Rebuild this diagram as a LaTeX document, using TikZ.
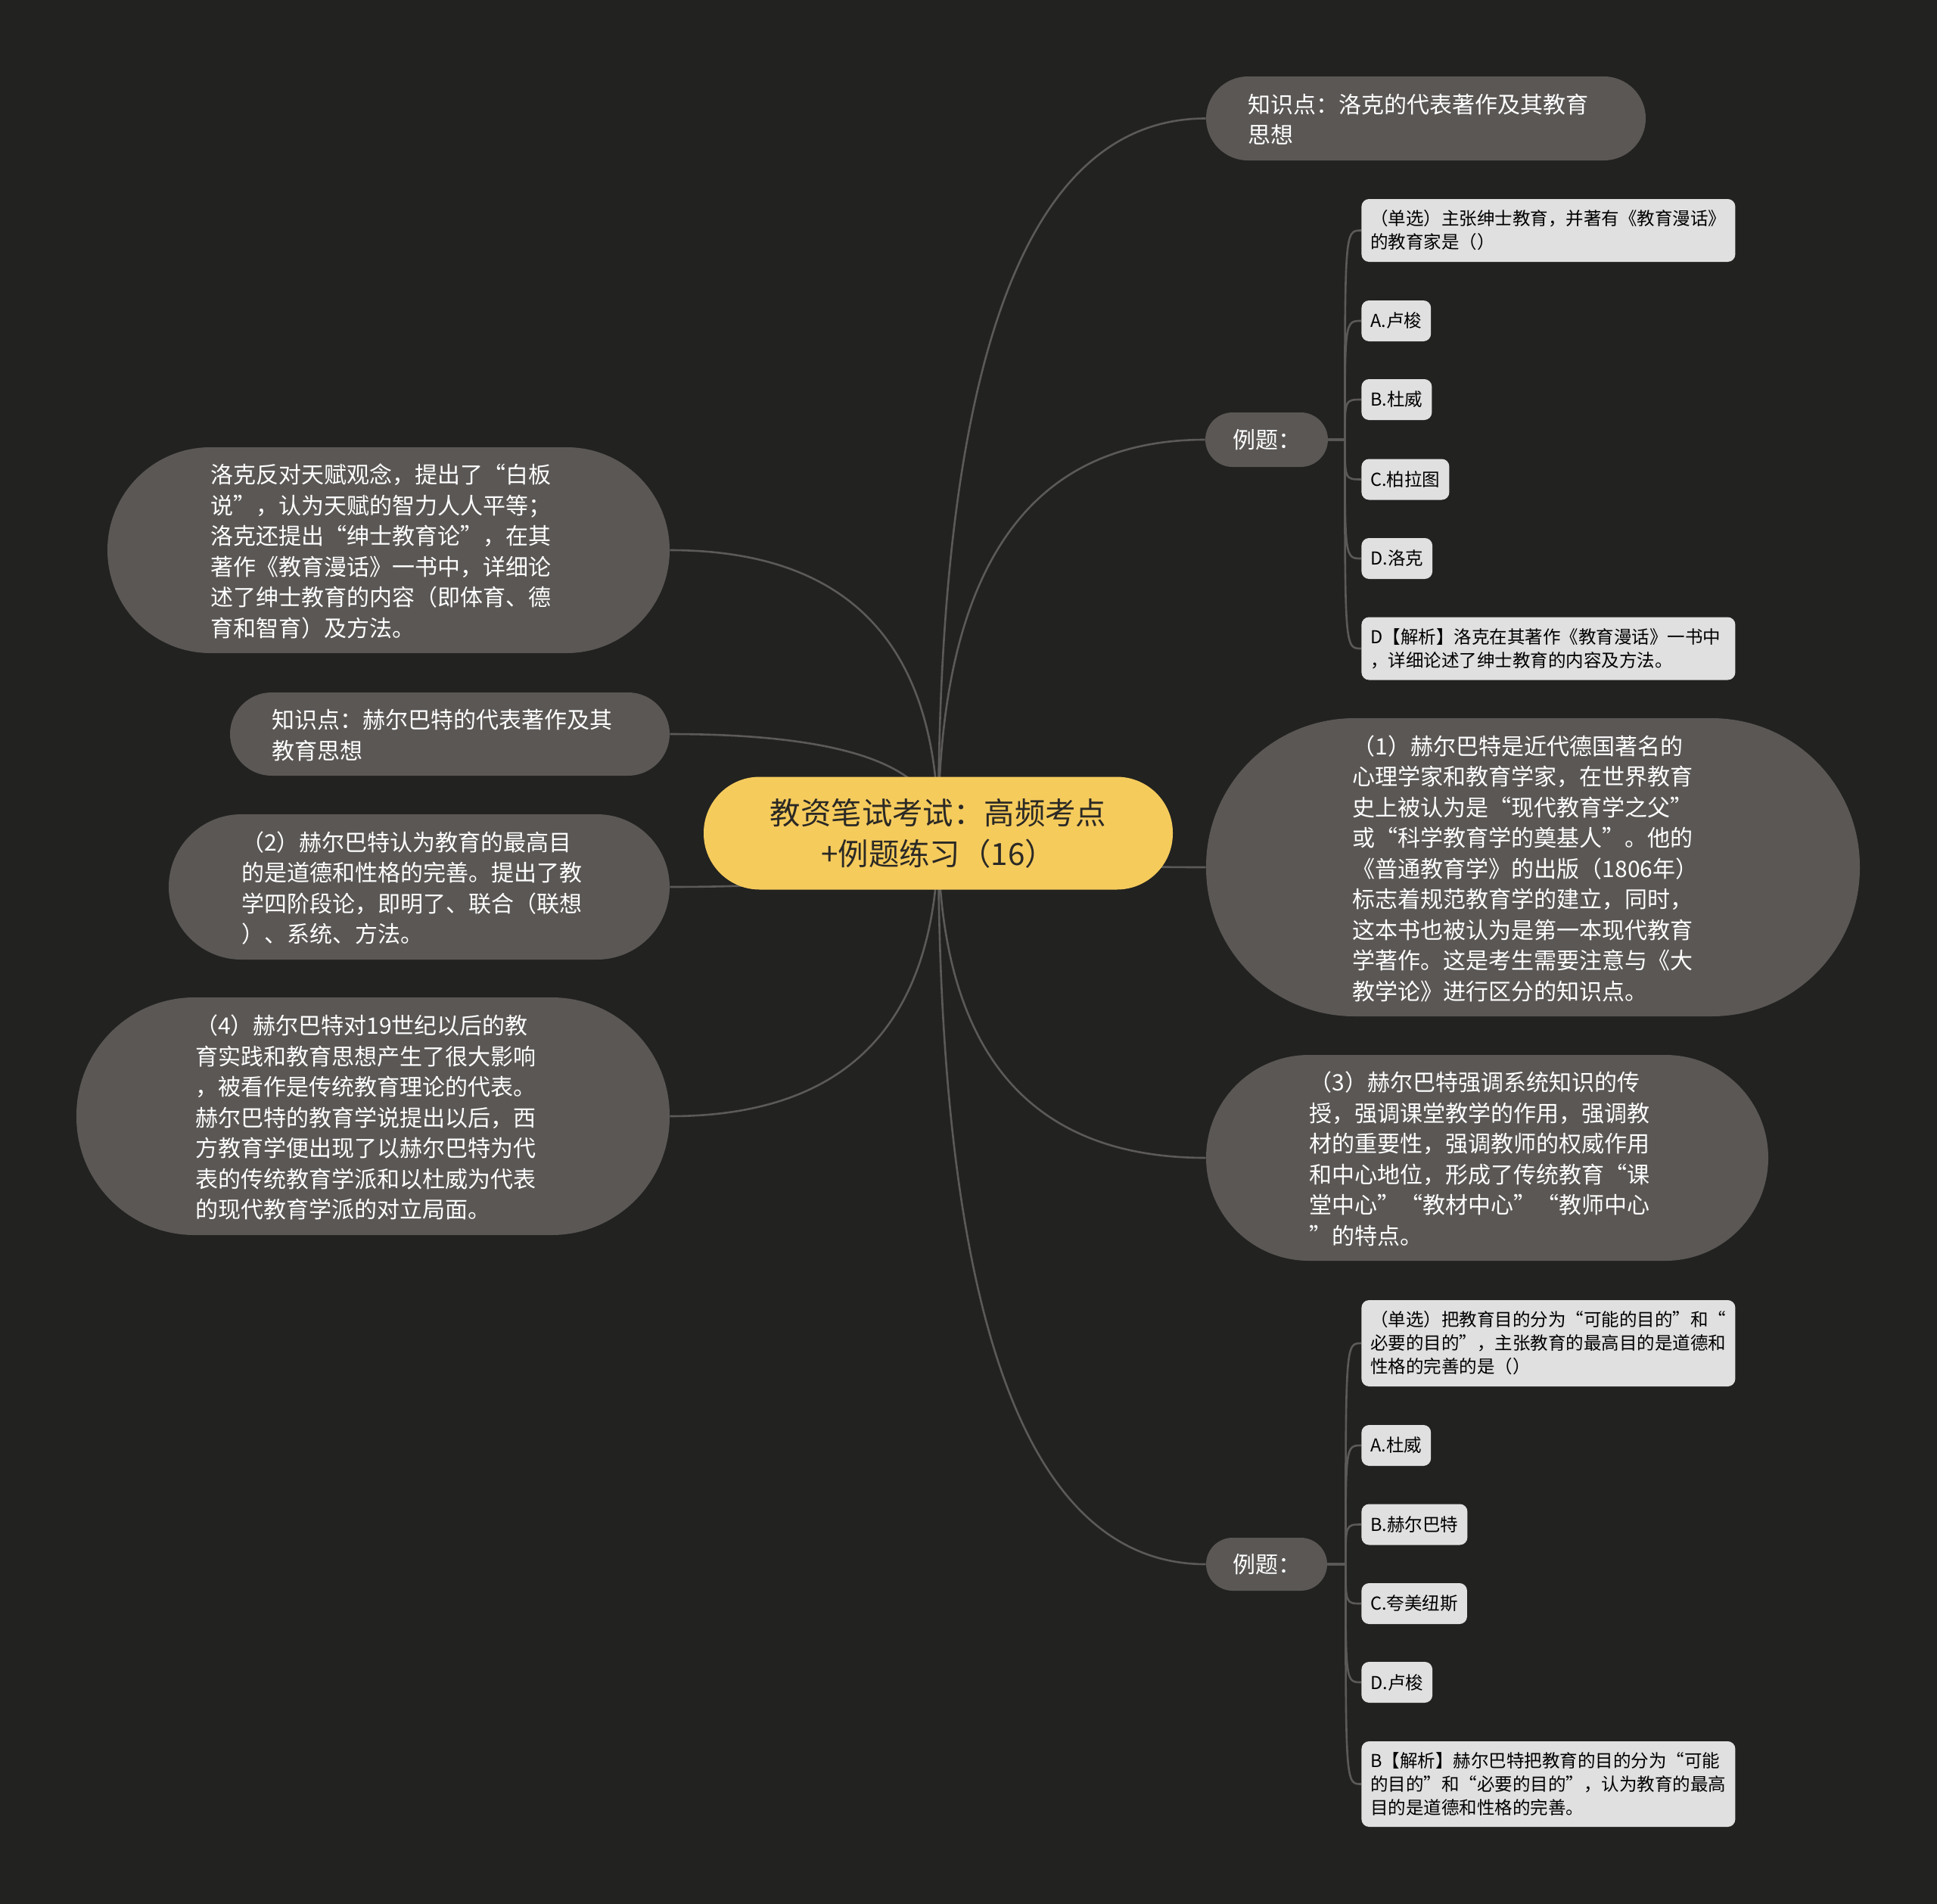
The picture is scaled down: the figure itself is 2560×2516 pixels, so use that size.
\documentclass[tikz,border=0pt]{standalone}
\usepackage{fontspec}
\setmainfont{Noto Sans CJK SC}
\usetikzlibrary{calc}
\definecolor{bgc}{HTML}{222220}
\definecolor{ngray}{HTML}{5A5755}
\definecolor{lnc}{HTML}{5C5A58}
\definecolor{yel}{HTML}{F5CB5C}
\definecolor{leafc}{HTML}{E0E0E0}
\definecolor{dtext}{HTML}{2B2925}
\pgfdeclarelayer{bg}
\pgfsetlayers{bg,main}
\newcommand{\txl}[1]{\raisebox{-2.5pt}[\height][\depth]{\begin{tabular}{@{}l@{\hspace{10pt}}}#1\end{tabular}}}
\tikzset{
  pill/.style n args={3}{rectangle, minimum width=#1, minimum height=#2, rounded corners=#3, inner sep=0pt},
  gnode/.style={fill=ngray, text=white, font=\fontsize{15}{20.25}\selectfont},
  cnode/.style={fill=yel, text=dtext, align=center, font=\fontsize{20.2}{27}\selectfont},
  leafbox/.style={rectangle, fill=leafc, text=black, rounded corners=5pt, anchor=west,
     inner xsep=6pt, inner ysep=0pt, minimum height=27pt, font=\fontsize{11.75}{15.5}\selectfont},
  wideleaf/.style={leafbox, text width=235pt, align=left},
  conn/.style={draw=lnc, line width=1.3pt},
}
\begin{document}
\begin{tikzpicture}[x=0.5pt,y=-0.5pt]
\useasboundingbox (0,0) rectangle (2560,2516);

% center
\node[pill={310pt}{74.5pt}{37pt}, cnode] (ctr) at (1240,1101) {教资笔试考试：高频考点\\+例题练习（16）};

% right side
\node[pill={290.5pt}{55.5pt}{27.7pt}, gnode] (k1) at (1884.5,156.5) {\txl{知识点：洛克的代表著作及其教育\\思想}};
\node[pill={81pt}{36pt}{18pt}, gnode] (l1) at (1674,581) {例题：};
\node[pill={432pt}{197pt}{98pt}, gnode] (n1) at (2026,1146) {\txl{（1）赫尔巴特是近代德国著名的\\心理学家和教育学家，在世界教育\\史上被认为是“现代教育学之父”\\或“科学教育学的奠基人”。他的\\《普通教育学》的出版（1806年）\\标志着规范教育学的建立，同时，\\这本书也被认为是第一本现代教育\\学著作。这是考生需要注意与《大\\教学论》进行区分的知识点。}};
\node[pill={371.5pt}{136pt}{68pt}, gnode] (n3) at (1965.5,1530) {\txl{（3）赫尔巴特强调系统知识的传\\授，强调课堂教学的作用，强调教\\材的重要性，强调教师的权威作用\\和中心地位，形成了传统教育“课\\堂中心”“教材中心”“教师中心\\”的特点。}};
\node[pill={80pt}{35pt}{17.5pt}, gnode] (l2) at (1674,2067) {例题：};

% left side
\node[pill={371.5pt}{136pt}{68pt}, gnode] (n5) at (513.5,727) {\txl{洛克反对天赋观念，提出了“白板\\说”，认为天赋的智力人人平等；\\洛克还提出“绅士教育论”，在其\\著作《教育漫话》一书中，详细论\\述了绅士教育的内容（即体育、德\\育和智育）及方法。}};
\node[pill={290.5pt}{55pt}{27.5pt}, gnode] (k2) at (594.5,970) {\txl{知识点：赫尔巴特的代表著作及其\\教育思想}};
\node[pill={331pt}{96pt}{48pt}, gnode] (n2) at (554,1172) {\txl{（2）赫尔巴特认为教育的最高目\\的是道德和性格的完善。提出了教\\学四阶段论，即明了、联合（联想\\）、系统、方法。}};
\node[pill={392pt}{157pt}{78pt}, gnode] (n4) at (493,1475) {\txl{（4）赫尔巴特对19世纪以后的教\\育实践和教育思想产生了很大影响\\，被看作是传统教育理论的代表。\\赫尔巴特的教育学说提出以后，西\\方教育学便出现了以赫尔巴特为代\\表的传统教育学派和以杜威为代表\\的现代教育学派的对立局面。}};

% leaves top
\node[wideleaf, minimum height=41.5pt] (q1) at (1799,304.5) {（单选）主张绅士教育，并著有《教育漫话》\\的教育家是（）};
\node[leafbox] (a1) at (1799,424) {A.卢梭};
\node[leafbox] (b1) at (1799,528) {B.杜威};
\node[leafbox] (c1) at (1799,633.5) {C.柏拉图};
\node[leafbox] (d1) at (1799,738) {D.洛克};
\node[wideleaf, minimum height=41.5pt] (e1) at (1799,857) {D【解析】洛克在其著作《教育漫话》一书中\\，详细论述了绅士教育的内容及方法。};

% leaves bottom
\node[wideleaf, minimum height=57pt] (q2) at (1799,1775) {（单选）把教育目的分为“可能的目的”和“\\必要的目的”，主张教育的最高目的是道德和\\性格的完善的是（）};
\node[leafbox] (a2) at (1799,1910) {A.杜威};
\node[leafbox] (b2) at (1799,2014.5) {B.赫尔巴特};
\node[leafbox] (c2) at (1799,2119) {C.夸美纽斯};
\node[leafbox] (d2) at (1799,2223) {D.卢梭};
\node[wideleaf, minimum height=56.5pt] (e2) at (1799,2357.5) {B【解析】赫尔巴特把教育的目的分为“可能\\的目的”和“必要的目的”，认为教育的最高\\目的是道德和性格的完善。};

\begin{pgfonlayer}{bg}
\fill[bgc] (0,0) rectangle (2560,2516);
\foreach \n/\a in {k1/west,l1/west,n1/west,n3/west,l2/west,n5/east,k2/east,n2/east,n4/east}{
  \draw[conn] (ctr.center) .. controls ($(ctr.center)!0.667!(ctr.center |- \n.\a)$) and ($(\n.\a)!0.667!(ctr.center |- \n.\a)$) .. (\n.\a);
}
\coordinate (s1) at ($(l1.east)+(22,0)$);
\coordinate (s2) at ($(l2.east)+(24,0)$);
\foreach \m in {q1,a1,b1,c1,d1,e1}{
  \draw[conn] (l1.east) -- (s1) .. controls (s1 |- \m.west) .. (\m.west);
}
\foreach \m in {q2,a2,b2,c2,d2,e2}{
  \draw[conn] (l2.east) -- (s2) .. controls (s2 |- \m.west) .. (\m.west);
}
\end{pgfonlayer}
\end{tikzpicture}
\end{document}
